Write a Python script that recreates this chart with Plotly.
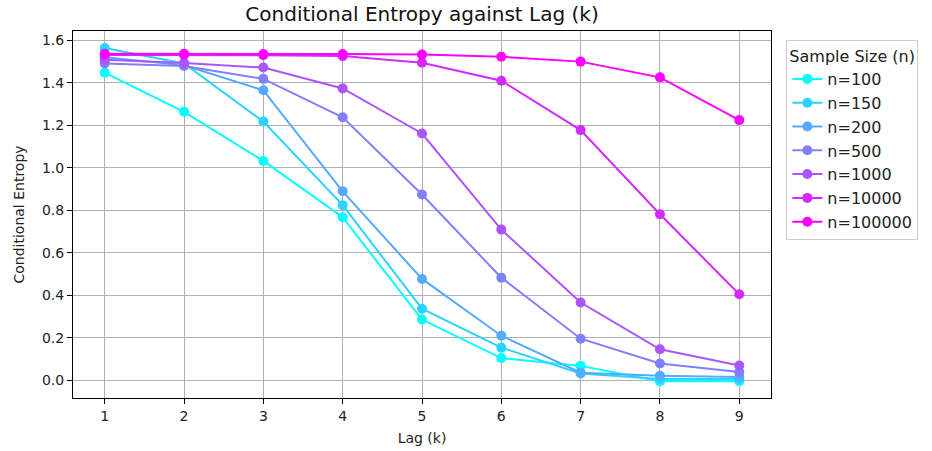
import plotly.graph_objects as go

lags = [1, 2, 3, 4, 5, 6, 7, 8, 9]
labels = ["n=100", "n=150", "n=200", "n=500", "n=1000", "n=10000", "n=100000"]
colors = ["#00ffff", "#2ad4ff", "#55aaff", "#8080ff", "#aa55ff", "#d42aff", "#ff00ff"]

n100 = [1.447, 1.263, 1.032, 0.767, 0.286, 0.105, 0.068, -0.004, -0.004]
n150 = [1.563, 1.490, 1.217, 0.824, 0.337, 0.154, 0.032, 0.006, 0.006]
n200 = [1.520, 1.482, 1.364, 0.889, 0.477, 0.210, 0.036, 0.022, 0.016]
n500 = [1.490, 1.478, 1.418, 1.237, 0.874, 0.483, 0.196, 0.079, 0.039]
n1000 = [1.508, 1.492, 1.471, 1.373, 1.161, 0.709, 0.366, 0.146, 0.070]
n10000 = [1.530, 1.530, 1.529, 1.525, 1.494, 1.409, 1.177, 0.781, 0.405]
n100000 = [1.536, 1.536, 1.535, 1.535, 1.532, 1.522, 1.499, 1.425, 1.224]

series = [n100, n150, n200, n500, n1000, n10000, n100000]

fig = go.Figure()
for lab, col, vals in zip(labels, colors, series):
    fig.add_trace(go.Scatter(
        x=lags, y=vals, name=lab, mode="lines+markers",
        line=dict(color=col, width=2),
        marker=dict(color=col, size=10),
    ))

axis_common = dict(
    showline=True, linecolor="black", linewidth=1, mirror=True,
    ticks="outside", ticklen=5, tickcolor="black",
    showgrid=True, gridcolor="#b0b0b0", gridwidth=1, zeroline=False,
    tickfont=dict(size=14, color="#222222"), automargin=False,
)

fig.update_layout(
    width=932, height=451,
    margin=dict(l=73, r=161, t=31, b=53),
    paper_bgcolor="white", plot_bgcolor="white",
    font=dict(family="DejaVu Sans", color="#222222"),
    title=dict(text="Conditional Entropy against Lag (k)", x=(73 + 771) / 2 / 932, xanchor="center",
               y=1 - 14 / 451, yanchor="middle", font=dict(size=20, color="#111111"), automargin=False),
    xaxis=dict(range=[0.6, 9.4], tickvals=lags, title=dict(text="Lag (k)", font=dict(size=14), standoff=10), **axis_common),
    yaxis=dict(range=[-0.083, 1.643], tickvals=[0, 0.2, 0.4, 0.6, 0.8, 1.0, 1.2, 1.4, 1.6], tickformat=".1f",
               title=dict(text="Conditional Entropy", font=dict(size=14), standoff=14), **axis_common),
    legend=dict(
        x=1.022, y=0.975, xanchor="left", yanchor="top",
        bordercolor="#cccccc", borderwidth=1,
        font=dict(size=16, color="#222222"),
        title=dict(text="Sample Size (n)", font=dict(size=16)),
        tracegroupgap=0,
    ),
)

fig.write_html("out.html", config={"displayModeBar": False},
               post_script="document.body.style.margin='0';document.body.style.padding='0';")
